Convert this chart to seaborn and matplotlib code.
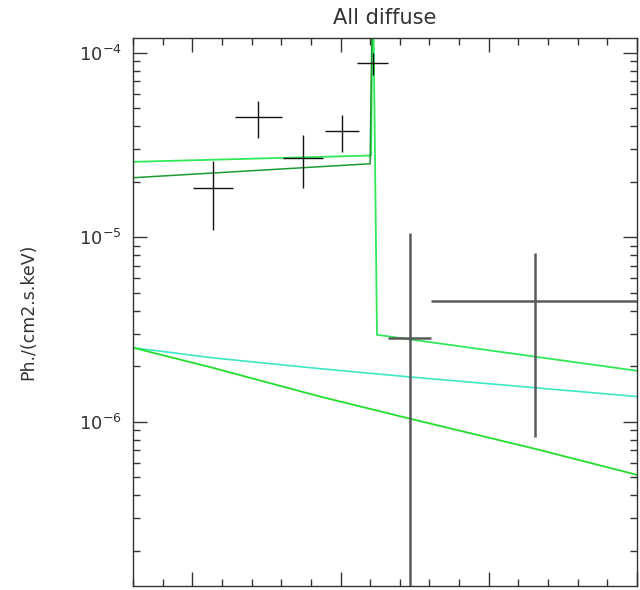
import numpy as np
import pandas as pd
import matplotlib
matplotlib.use("Agg")
import matplotlib.pyplot as plt
import seaborn as sns
from matplotlib.ticker import MultipleLocator, LogLocator, NullFormatter

# measured fluxes (black crosses)
pt_x = [5.70, 7.22, 8.73, 10.05, 11.09, 12.34, 16.56]
pt_y = [1.85e-5, 4.5e-5, 2.7e-5, 3.77e-5, 8.8e-5, 2.85e-6, 4.53e-6]
pt_xlo = [0.67, 0.79, 0.67, 0.59, 0.52, 0.74, 3.50]
pt_xhi = [0.67, 0.79, 0.67, 0.59, 0.52, 0.70, 3.50]
pt_ylo = [1.1e-5, 3.46e-5, 1.85e-5, 2.9e-5, 7.6e-5, 1e-8, 8.3e-7]
pt_yhi = [2.6e-5, 5.5e-5, 3.6e-5, 4.6e-5, 1.0e-4, 1.06e-5, 8.24e-6]

# model curves
total_x = [3.0, 11.03, 11.09, 11.23, 20.0]
total_y = [2.56e-5, 2.77e-5, 3.0e-4, 2.96e-6, 1.89e-6]
cont_x = [3.0, 11.0, 11.0, 11.09]
cont_y = [2.1e-5, 2.5e-5, 2.77e-5, 3.0e-4]
pl1_x = [3.0, 5.70, 9.31, 12.34, 16.56, 20.0]
pl1_y = [2.52e-6, 2.22e-6, 1.94e-6, 1.75e-6, 1.53e-6, 1.37e-6]
pl2_x = [3.0, 5.70, 9.31, 12.34, 16.56, 20.0]
pl2_y = [2.52e-6, 1.96e-6, 1.37e-6, 1.04e-6, 7.14e-7, 5.16e-7]

sns.set_style("ticks")
plt.rcParams['font.family'] = ['DejaVu Sans']

fig = plt.figure(figsize=(6.4, 5.9), dpi=100)
ax = fig.add_axes([0.2078, 0.0068, 0.7875, 0.9288])

curves = [
    (total_x, total_y, '#30e858', 1.3),
    (cont_x, cont_y, '#1c9c32', 1.1),
    (pl1_x, pl1_y, '#3ce8c4', 1.2),
    (pl2_x, pl2_y, '#24de2c', 1.3),
]
for cx, cy, col, lw in curves:
    df = pd.DataFrame({'x': cx, 'y': cy})
    sns.lineplot(data=df, x='x', y='y', sort=False, estimator=None,
                 color=col, linewidth=lw, ax=ax)

pt_x = np.array(pt_x)
pt_y = np.array(pt_y)
xerr = np.array([pt_xlo, pt_xhi])
yerr = np.array([pt_y - np.array(pt_ylo), np.array(pt_yhi) - pt_y])
upper = slice(0, 5)
lower = slice(5, 7)
ax.errorbar(pt_x[upper], pt_y[upper], xerr=xerr[:, upper], yerr=yerr[:, upper],
            fmt='none', ecolor='#111111', elinewidth=1.0, capsize=0, zorder=3)
ax.errorbar(pt_x[lower], pt_y[lower], xerr=xerr[:, lower], yerr=yerr[:, lower],
            fmt='none', ecolor='#5a5a5a', elinewidth=1.8, capsize=0, zorder=3)

ax.set_yscale('log')
ax.set_xlim(3, 20)
ax.set_ylim(1.29e-7, 1.2e-4)

ax.xaxis.set_major_locator(MultipleLocator(5))
ax.xaxis.set_minor_locator(MultipleLocator(1))
ax.xaxis.set_major_formatter(NullFormatter())
ax.yaxis.set_major_locator(LogLocator(base=10))
ax.yaxis.set_minor_locator(LogLocator(base=10, subs=np.arange(2, 10)))
ax.yaxis.set_minor_formatter(NullFormatter())
ax.tick_params(which='both', direction='in', top=True, right=True,
               colors='#333333', labelsize=13, width=1)
ax.tick_params(which='major', length=10, pad=8)
ax.tick_params(which='minor', length=5)
for s in ax.spines.values():
    s.set_color('#333333')
    s.set_linewidth(1)

ax.set_xlabel('')
ax.set_ylabel('Ph./(cm2.s.keV)', fontsize=12.5, color='#333333', labelpad=30)
ax.set_title('All diffuse', fontsize=15, color='#333333', pad=10)

fig.savefig('out.png', dpi=100)
